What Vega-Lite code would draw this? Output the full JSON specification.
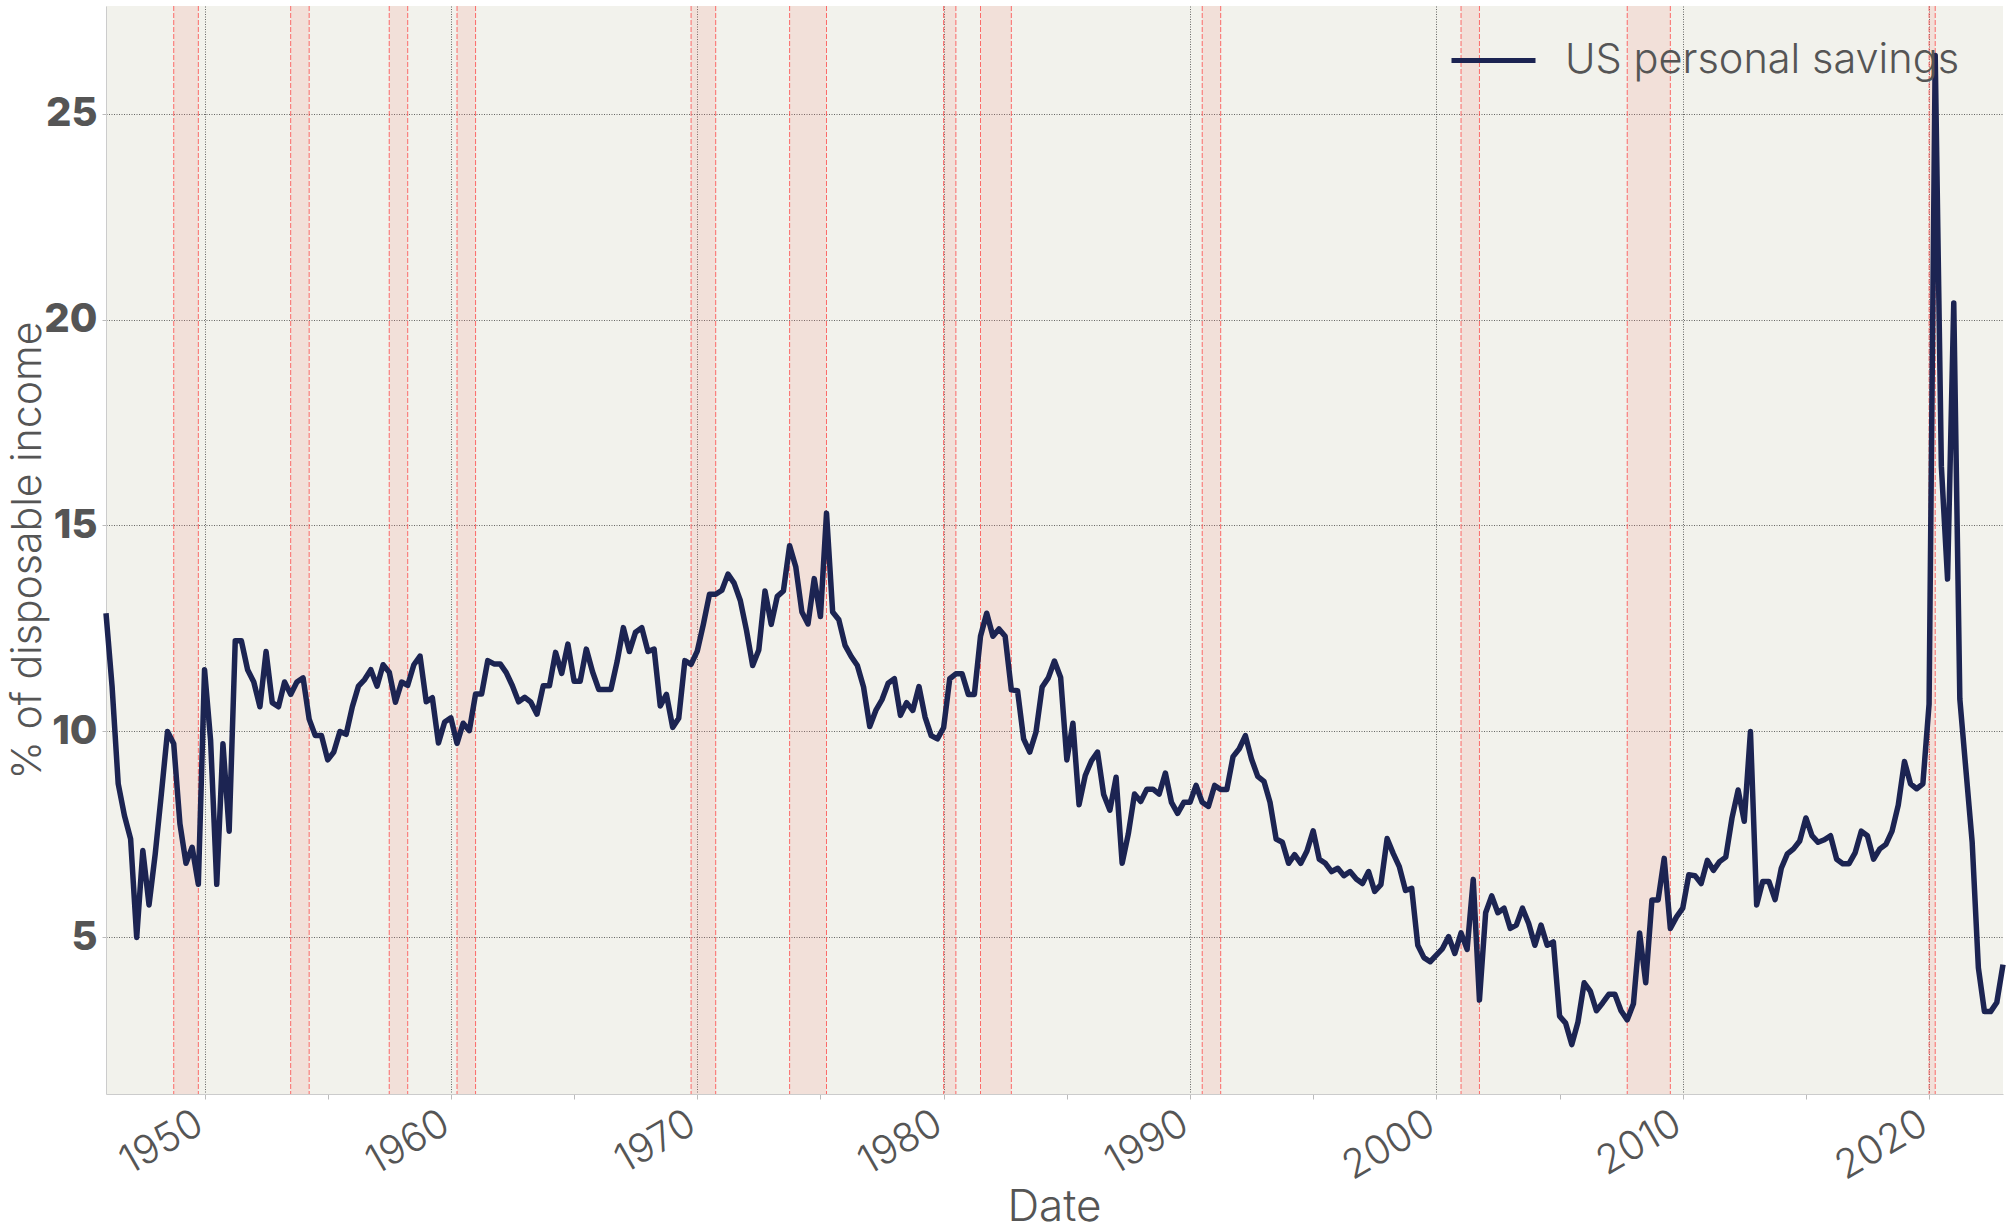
{
  "$schema": "https://vega.github.io/schema/vega-lite/v6.json",
  "width": 1897,
  "height": 1088,
  "autosize": {"type": "none"},
  "padding": {"left": 106, "top": 6, "right": 7, "bottom": 138},
  "background": "white",
  "config": {
    "font": "Inter",
    "view": {"fill": "#f2f2ec", "stroke": null},
    "axis": {"labelColor": "#555", "titleColor": "#555"}
  },
  "datasets": {
    "rec": [
      {"d": "1948-10-01", "d2": "1949-10-01"},
      {"d": "1953-07-01", "d2": "1954-04-01"},
      {"d": "1957-07-01", "d2": "1958-04-01"},
      {"d": "1960-04-01", "d2": "1961-01-01"},
      {"d": "1969-10-01", "d2": "1970-10-01"},
      {"d": "1973-10-01", "d2": "1975-04-01"},
      {"d": "1980-01-01", "d2": "1980-07-01"},
      {"d": "1981-07-01", "d2": "1982-10-01"},
      {"d": "1990-07-01", "d2": "1991-04-01"},
      {"d": "2001-01-01", "d2": "2001-10-01"},
      {"d": "2007-10-01", "d2": "2009-07-01"},
      {"d": "2020-01-01", "d2": "2020-04-01"}
    ],
    "edges": [
      {"d": "1948-10-01"}, {"d": "1949-10-01"}, {"d": "1953-07-01"}, {"d": "1954-04-01"},
      {"d": "1957-07-01"}, {"d": "1958-04-01"}, {"d": "1960-04-01"}, {"d": "1961-01-01"},
      {"d": "1969-10-01"}, {"d": "1970-10-01"}, {"d": "1973-10-01"}, {"d": "1975-04-01"},
      {"d": "1980-01-01"}, {"d": "1980-07-01"}, {"d": "1981-07-01"}, {"d": "1982-10-01"},
      {"d": "1990-07-01"}, {"d": "1991-04-01"}, {"d": "2001-01-01"}, {"d": "2001-10-01"},
      {"d": "2007-10-01"}, {"d": "2009-07-01"}, {"d": "2020-01-01"}, {"d": "2020-04-01"}
    ],
    "sav": [
      {"d":"1946-01-01","v":12.87},{"d":"1946-04-01","v":11.1},{"d":"1946-07-01","v":8.73},{"d":"1946-10-01","v":7.96},
      {"d":"1947-01-01","v":7.39},{"d":"1947-04-01","v":5.0},{"d":"1947-07-01","v":7.11},{"d":"1947-10-01","v":5.79},
      {"d":"1948-01-01","v":7.03},{"d":"1948-04-01","v":8.49},{"d":"1948-07-01","v":10.0},{"d":"1948-10-01","v":9.7},
      {"d":"1949-01-01","v":7.76},{"d":"1949-04-01","v":6.8},{"d":"1949-07-01","v":7.19},{"d":"1949-10-01","v":6.29},
      {"d":"1950-01-01","v":11.5},{"d":"1950-04-01","v":9.78},{"d":"1950-07-01","v":6.29},{"d":"1950-10-01","v":9.7},
      {"d":"1951-01-01","v":7.58},{"d":"1951-04-01","v":12.2},{"d":"1951-07-01","v":12.2},{"d":"1951-10-01","v":11.5},
      {"d":"1952-01-01","v":11.2},{"d":"1952-04-01","v":10.6},{"d":"1952-07-01","v":11.94},{"d":"1952-10-01","v":10.7},
      {"d":"1953-01-01","v":10.6},{"d":"1953-04-01","v":11.2},{"d":"1953-07-01","v":10.9},{"d":"1953-10-01","v":11.2},
      {"d":"1954-01-01","v":11.3},{"d":"1954-04-01","v":10.3},{"d":"1954-07-01","v":9.9},{"d":"1954-10-01","v":9.9},
      {"d":"1955-01-01","v":9.31},{"d":"1955-04-01","v":9.5},{"d":"1955-07-01","v":10.0},{"d":"1955-10-01","v":9.93},
      {"d":"1956-01-01","v":10.6},{"d":"1956-04-01","v":11.1},{"d":"1956-07-01","v":11.26},{"d":"1956-10-01","v":11.5},
      {"d":"1957-01-01","v":11.1},{"d":"1957-04-01","v":11.62},{"d":"1957-07-01","v":11.44},{"d":"1957-10-01","v":10.71},
      {"d":"1958-01-01","v":11.2},{"d":"1958-04-01","v":11.12},{"d":"1958-07-01","v":11.62},{"d":"1958-10-01","v":11.83},
      {"d":"1959-01-01","v":10.72},{"d":"1959-04-01","v":10.82},{"d":"1959-07-01","v":9.72},{"d":"1959-10-01","v":10.23},
      {"d":"1960-01-01","v":10.33},{"d":"1960-04-01","v":9.71},{"d":"1960-07-01","v":10.2},{"d":"1960-10-01","v":10.02},
      {"d":"1961-01-01","v":10.91},{"d":"1961-04-01","v":10.91},{"d":"1961-07-01","v":11.72},{"d":"1961-10-01","v":11.64},
      {"d":"1962-01-01","v":11.64},{"d":"1962-04-01","v":11.43},{"d":"1962-07-01","v":11.11},{"d":"1962-10-01","v":10.72},
      {"d":"1963-01-01","v":10.83},{"d":"1963-04-01","v":10.71},{"d":"1963-07-01","v":10.42},{"d":"1963-10-01","v":11.11},
      {"d":"1964-01-01","v":11.11},{"d":"1964-04-01","v":11.92},{"d":"1964-07-01","v":11.41},{"d":"1964-10-01","v":12.12},
      {"d":"1965-01-01","v":11.22},{"d":"1965-04-01","v":11.22},{"d":"1965-07-01","v":12.0},{"d":"1965-10-01","v":11.45},
      {"d":"1966-01-01","v":11.02},{"d":"1966-04-01","v":11.02},{"d":"1966-07-01","v":11.02},{"d":"1966-10-01","v":11.7},
      {"d":"1967-01-01","v":12.52},{"d":"1967-04-01","v":11.94},{"d":"1967-07-01","v":12.41},{"d":"1967-10-01","v":12.52},
      {"d":"1968-01-01","v":11.94},{"d":"1968-04-01","v":12.0},{"d":"1968-07-01","v":10.62},{"d":"1968-10-01","v":10.9},
      {"d":"1969-01-01","v":10.1},{"d":"1969-04-01","v":10.32},{"d":"1969-07-01","v":11.72},{"d":"1969-10-01","v":11.63},
      {"d":"1970-01-01","v":11.95},{"d":"1970-04-01","v":12.6},{"d":"1970-07-01","v":13.33},{"d":"1970-10-01","v":13.33},
      {"d":"1971-01-01","v":13.43},{"d":"1971-04-01","v":13.82},{"d":"1971-07-01","v":13.6},{"d":"1971-10-01","v":13.18},
      {"d":"1972-01-01","v":12.45},{"d":"1972-04-01","v":11.6},{"d":"1972-07-01","v":11.98},{"d":"1972-10-01","v":13.41},
      {"d":"1973-01-01","v":12.6},{"d":"1973-04-01","v":13.28},{"d":"1973-07-01","v":13.41},{"d":"1973-10-01","v":14.51},
      {"d":"1974-01-01","v":13.99},{"d":"1974-04-01","v":12.9},{"d":"1974-07-01","v":12.61},{"d":"1974-10-01","v":13.71},
      {"d":"1975-01-01","v":12.79},{"d":"1975-04-01","v":15.3},{"d":"1975-07-01","v":12.9},{"d":"1975-10-01","v":12.71},
      {"d":"1976-01-01","v":12.09},{"d":"1976-04-01","v":11.82},{"d":"1976-07-01","v":11.6},{"d":"1976-10-01","v":11.08},
      {"d":"1977-01-01","v":10.12},{"d":"1977-04-01","v":10.51},{"d":"1977-07-01","v":10.77},{"d":"1977-10-01","v":11.17},
      {"d":"1978-01-01","v":11.28},{"d":"1978-04-01","v":10.39},{"d":"1978-07-01","v":10.7},{"d":"1978-10-01","v":10.51},
      {"d":"1979-01-01","v":11.09},{"d":"1979-04-01","v":10.35},{"d":"1979-07-01","v":9.9},{"d":"1979-10-01","v":9.82},
      {"d":"1980-01-01","v":10.09},{"d":"1980-04-01","v":11.28},{"d":"1980-07-01","v":11.4},{"d":"1980-10-01","v":11.4},
      {"d":"1981-01-01","v":10.9},{"d":"1981-04-01","v":10.9},{"d":"1981-07-01","v":12.31},{"d":"1981-10-01","v":12.87},
      {"d":"1982-01-01","v":12.31},{"d":"1982-04-01","v":12.49},{"d":"1982-07-01","v":12.31},{"d":"1982-10-01","v":11.01},
      {"d":"1983-01-01","v":10.99},{"d":"1983-04-01","v":9.82},{"d":"1983-07-01","v":9.5},{"d":"1983-10-01","v":9.98},
      {"d":"1984-01-01","v":11.08},{"d":"1984-04-01","v":11.3},{"d":"1984-07-01","v":11.71},{"d":"1984-10-01","v":11.31},
      {"d":"1985-01-01","v":9.31},{"d":"1985-04-01","v":10.2},{"d":"1985-07-01","v":8.22},{"d":"1985-10-01","v":8.93},
      {"d":"1986-01-01","v":9.29},{"d":"1986-04-01","v":9.5},{"d":"1986-07-01","v":8.47},{"d":"1986-10-01","v":8.09},
      {"d":"1987-01-01","v":8.89},{"d":"1987-04-01","v":6.8},{"d":"1987-07-01","v":7.51},{"d":"1987-10-01","v":8.48},
      {"d":"1988-01-01","v":8.3},{"d":"1988-04-01","v":8.6},{"d":"1988-07-01","v":8.6},{"d":"1988-10-01","v":8.48},
      {"d":"1989-01-01","v":8.99},{"d":"1989-04-01","v":8.28},{"d":"1989-07-01","v":8.01},{"d":"1989-10-01","v":8.28},
      {"d":"1990-01-01","v":8.28},{"d":"1990-04-01","v":8.69},{"d":"1990-07-01","v":8.28},{"d":"1990-10-01","v":8.18},
      {"d":"1991-01-01","v":8.69},{"d":"1991-04-01","v":8.59},{"d":"1991-07-01","v":8.59},{"d":"1991-10-01","v":9.39},
      {"d":"1992-01-01","v":9.58},{"d":"1992-04-01","v":9.9},{"d":"1992-07-01","v":9.33},{"d":"1992-10-01","v":8.91},
      {"d":"1993-01-01","v":8.79},{"d":"1993-04-01","v":8.28},{"d":"1993-07-01","v":7.39},{"d":"1993-10-01","v":7.31},
      {"d":"1994-01-01","v":6.8},{"d":"1994-04-01","v":7.01},{"d":"1994-07-01","v":6.8},{"d":"1994-10-01","v":7.1},
      {"d":"1995-01-01","v":7.59},{"d":"1995-04-01","v":6.9},{"d":"1995-07-01","v":6.8},{"d":"1995-10-01","v":6.6},
      {"d":"1996-01-01","v":6.68},{"d":"1996-04-01","v":6.5},{"d":"1996-07-01","v":6.6},{"d":"1996-10-01","v":6.42},
      {"d":"1997-01-01","v":6.31},{"d":"1997-04-01","v":6.6},{"d":"1997-07-01","v":6.12},{"d":"1997-10-01","v":6.28},
      {"d":"1998-01-01","v":7.4},{"d":"1998-04-01","v":7.04},{"d":"1998-07-01","v":6.72},{"d":"1998-10-01","v":6.14},
      {"d":"1999-01-01","v":6.19},{"d":"1999-04-01","v":4.81},{"d":"1999-07-01","v":4.51},{"d":"1999-10-01","v":4.41},
      {"d":"2000-01-01","v":4.57},{"d":"2000-04-01","v":4.73},{"d":"2000-07-01","v":5.02},{"d":"2000-10-01","v":4.61},
      {"d":"2001-01-01","v":5.11},{"d":"2001-04-01","v":4.71},{"d":"2001-07-01","v":6.41},{"d":"2001-10-01","v":3.48},
      {"d":"2002-01-01","v":5.6},{"d":"2002-04-01","v":6.01},{"d":"2002-07-01","v":5.6},{"d":"2002-10-01","v":5.71},
      {"d":"2003-01-01","v":5.22},{"d":"2003-04-01","v":5.3},{"d":"2003-07-01","v":5.71},{"d":"2003-10-01","v":5.34},
      {"d":"2004-01-01","v":4.81},{"d":"2004-04-01","v":5.3},{"d":"2004-07-01","v":4.81},{"d":"2004-10-01","v":4.89},
      {"d":"2005-01-01","v":3.09},{"d":"2005-04-01","v":2.92},{"d":"2005-07-01","v":2.4},{"d":"2005-10-01","v":2.95},
      {"d":"2006-01-01","v":3.9},{"d":"2006-04-01","v":3.7},{"d":"2006-07-01","v":3.22},{"d":"2006-10-01","v":3.41},
      {"d":"2007-01-01","v":3.62},{"d":"2007-04-01","v":3.62},{"d":"2007-07-01","v":3.22},{"d":"2007-10-01","v":3.0},
      {"d":"2008-01-01","v":3.39},{"d":"2008-04-01","v":5.11},{"d":"2008-07-01","v":3.9},{"d":"2008-10-01","v":5.91},
      {"d":"2009-01-01","v":5.91},{"d":"2009-04-01","v":6.92},{"d":"2009-07-01","v":5.22},{"d":"2009-10-01","v":5.5},
      {"d":"2010-01-01","v":5.71},{"d":"2010-04-01","v":6.52},{"d":"2010-07-01","v":6.5},{"d":"2010-10-01","v":6.31},
      {"d":"2011-01-01","v":6.87},{"d":"2011-04-01","v":6.63},{"d":"2011-07-01","v":6.84},{"d":"2011-10-01","v":6.95},
      {"d":"2012-01-01","v":7.9},{"d":"2012-04-01","v":8.58},{"d":"2012-07-01","v":7.82},{"d":"2012-10-01","v":10.0},
      {"d":"2013-01-01","v":5.79},{"d":"2013-04-01","v":6.36},{"d":"2013-07-01","v":6.36},{"d":"2013-10-01","v":5.92},
      {"d":"2014-01-01","v":6.68},{"d":"2014-04-01","v":7.03},{"d":"2014-07-01","v":7.15},{"d":"2014-10-01","v":7.34},
      {"d":"2015-01-01","v":7.9},{"d":"2015-04-01","v":7.47},{"d":"2015-07-01","v":7.31},{"d":"2015-10-01","v":7.37},
      {"d":"2016-01-01","v":7.47},{"d":"2016-04-01","v":6.9},{"d":"2016-07-01","v":6.79},{"d":"2016-10-01","v":6.79},
      {"d":"2017-01-01","v":7.06},{"d":"2017-04-01","v":7.58},{"d":"2017-07-01","v":7.47},{"d":"2017-10-01","v":6.9},
      {"d":"2018-01-01","v":7.15},{"d":"2018-04-01","v":7.26},{"d":"2018-07-01","v":7.58},{"d":"2018-10-01","v":8.21},
      {"d":"2019-01-01","v":9.27},{"d":"2019-04-01","v":8.73},{"d":"2019-07-01","v":8.61},{"d":"2019-10-01","v":8.73},
      {"d":"2020-01-01","v":10.66},{"d":"2020-04-01","v":26.41},{"d":"2020-07-01","v":16.44},{"d":"2020-10-01","v":13.7},
      {"d":"2021-01-01","v":20.4},{"d":"2021-04-01","v":10.79},{"d":"2021-07-01","v":9.05},{"d":"2021-10-01","v":7.31},
      {"d":"2022-01-01","v":4.26},{"d":"2022-04-01","v":3.2},{"d":"2022-07-01","v":3.2},{"d":"2022-10-01","v":3.42},
      {"d":"2023-01-01","v":4.34}
    ]
  },
  "encoding": {
    "x": {
      "field": "d",
      "type": "temporal",
      "scale": {
        "type": "utc",
        "domain": [
          {"year": 1946, "month": 1, "date": 1, "utc": true},
          {"year": 2023, "month": 1, "date": 1, "utc": true}
        ]
      },
      "axis": {
        "title": "Date",
        "titleFontSize": 44,
        "titleFontWeight": 300,
        "titleX": 948,
        "titleY": 126,
        "titleBaseline": "alphabetic",
        "values": [
          {"year": 1950, "month": 1, "date": 1, "utc": true},
          {"year": 1955, "month": 1, "date": 1, "utc": true},
          {"year": 1960, "month": 1, "date": 1, "utc": true},
          {"year": 1965, "month": 1, "date": 1, "utc": true},
          {"year": 1970, "month": 1, "date": 1, "utc": true},
          {"year": 1975, "month": 1, "date": 1, "utc": true},
          {"year": 1980, "month": 1, "date": 1, "utc": true},
          {"year": 1985, "month": 1, "date": 1, "utc": true},
          {"year": 1990, "month": 1, "date": 1, "utc": true},
          {"year": 1995, "month": 1, "date": 1, "utc": true},
          {"year": 2000, "month": 1, "date": 1, "utc": true},
          {"year": 2005, "month": 1, "date": 1, "utc": true},
          {"year": 2010, "month": 1, "date": 1, "utc": true},
          {"year": 2015, "month": 1, "date": 1, "utc": true},
          {"year": 2020, "month": 1, "date": 1, "utc": true}
        ],
        "labelExpr": "utcyear(datum.value) % 10 === 0 ? utcFormat(datum.value, '%Y') : ''",
        "labelAngle": -30,
        "labelAlign": "right",
        "labelBaseline": "top",
        "labelOffset": -15,
        "labelPadding": 4,
        "labelFontSize": 40,
        "labelFontWeight": 300,
        "labelOverlap": false,
        "labelFlush": false,
        "labelBound": false,
        "tickSize": 5,
        "tickColor": "#bbbbbb",
        "domainColor": "#cccccc",
        "grid": true,
        "gridColor": "#222222",
        "gridDash": [1, 1.5],
        "gridWidth": 0.9,
        "gridOpacity": {"condition": {"test": "utcyear(datum.value) % 10 === 0", "value": 0.75}, "value": 0}
      }
    }
  },
  "layer": [
    {
      "data": {"name": "rec"},
      "mark": {"type": "rect", "color": "#f27a74", "opacity": 0.15},
      "encoding": {"x2": {"field": "d2"}}
    },
    {
      "data": {"name": "edges"},
      "mark": {"type": "rule", "color": "#ff4040", "opacity": 0.75, "strokeWidth": 1, "strokeDash": [5, 2]},
      "encoding": {}
    },
    {
      "data": {"name": "sav"},
      "mark": {"type": "line", "strokeWidth": 5.5, "strokeJoin": "round"},
      "encoding": {
        "y": {
          "field": "v",
          "type": "quantitative",
          "scale": {"domain": [1.2, 27.61], "nice": false, "zero": false},
          "axis": {
            "title": "% of disposable income",
            "titleFontSize": 41,
            "titleFontWeight": 300,
            "titleX": -66,
            "titleY": 544,
            "titleAngle": 270,
            "titleBaseline": "alphabetic",
            "values": [5, 10, 15, 20, 25],
            "labelFontSize": 40,
            "labelFontWeight": 800,
            "labelPadding": 5,
            "tickSize": 4,
            "tickColor": "#bbbbbb",
            "domainColor": "#cccccc",
            "grid": true,
            "gridColor": "#222222",
            "gridDash": [1, 1.5],
            "gridWidth": 0.9,
            "gridOpacity": 0.75
          }
        },
        "color": {
          "datum": "US personal savings",
          "type": "nominal",
          "scale": {"range": ["#1c2452"]},
          "legend": {
            "orient": "none",
            "legendX": 1343,
            "legendY": 10,
            "title": null,
            "padding": 0,
            "symbolType": "stroke",
            "symbolSize": 7056,
            "symbolStrokeWidth": 5,
            "labelFontSize": 41.5,
            "labelFontWeight": 300,
            "labelColor": "#555",
            "labelOffset": 27,
            "labelLimit": 800
          }
        }
      }
    }
  ]
}
